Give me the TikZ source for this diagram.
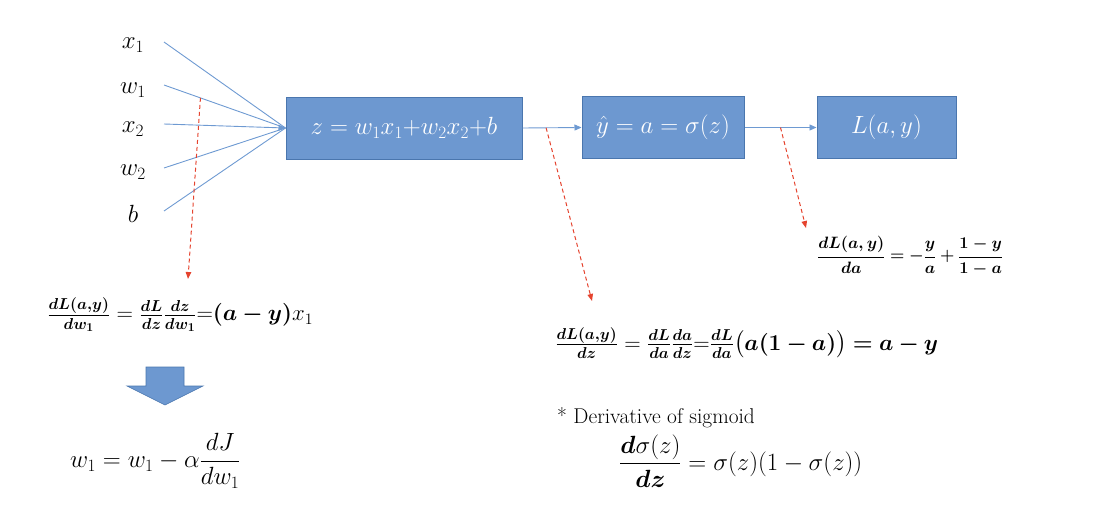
\documentclass[tikz,border=0pt]{standalone}
\usepackage{amsmath,bm,graphicx}
\usetikzlibrary{arrows.meta,calc}
\definecolor{boxblue}{HTML}{6D98D0}
\definecolor{boxedge}{HTML}{4A76AE}
\definecolor{lineblue}{HTML}{6E9AD2}
\definecolor{dashred}{HTML}{E5432E}
\begin{document}
\begin{tikzpicture}[x=1pt,y=-1pt,
  lbl/.style={font=\fontsize{24}{28}\selectfont, inner sep=0pt},
  blk/.style={draw=boxedge, fill=boxblue, line width=1pt, text=white,
    font=\fontsize{25}{29}\selectfont, minimum height=62pt, inner sep=0pt},
  conn/.style={draw=lineblue, line width=0.9pt},
  fwd/.style={conn, -{Triangle[length=7pt,width=6pt]}},
  bwd/.style={draw=dashred, line width=1pt, dash pattern=on 4pt off 3pt,
    -{Triangle[length=7pt,width=5.5pt]}},
  eq/.style={inner sep=0pt, anchor=west},
]
\useasboundingbox (0,0) rectangle (1114,522);

% input labels
\node[lbl] (x1) at (133,45) {$x_1$};
\node[lbl] (w1) at (133,90) {$w_1$};
\node[lbl] (x2) at (133,129) {$x_2$};
\node[lbl] (w2) at (133,172) {$w_2$};
\node[lbl] (b)  at (133,214) {$b$};

\coordinate (s1) at (164,42);
\coordinate (s2) at (164,85);
\coordinate (s3) at (164,124);
\coordinate (s4) at (164,168);
\coordinate (s5) at (164,211);

% blocks
\node[blk, minimum width=236pt] (b1) at (404,128) {$z = w_1x_1{+}w_2x_2{+}b$};
\node[blk, minimum width=162pt] (b2) at (663,127.5) {$\hat{y} = a = \sigma(z)$\hspace{10pt}};
\node[blk, minimum width=139pt] (b3) at (886.5,127.5) {$L(a,y)$};

% inputs to block 1
\draw[conn] (s1) -- (b1.west);
\draw[conn] (s2) -- (b1.west);
\draw[fwd] (s3) -- (b1.west);
\draw[conn] (s4) -- (b1.west);
\draw[conn] (s5) -- (b1.west);

\draw[fwd] (b1.east) -- (b2.west);
\draw[fwd] (b2.east) -- (b3.west);

% backward dashed arrows
\coordinate (r1s) at ($(s2)!0.3!(b1.west)$);
\coordinate (r1e) at (188,279);
\coordinate (r2s) at ($(b1.east)!0.4!(b2.west)$);
\coordinate (r2e) at (592,301);
\coordinate (r3s) at ($(b2.east)!0.5!(b3.west)$);
\coordinate (r3e) at (806,228);
\draw[bwd] (r1s) -- (r1e);
\draw[bwd] (r2s) -- (r2e);
\draw[bwd] (r3s) -- (r3e);

% formulas
\node[eq] (f1) at (47,315) {\fontsize{21}{25}\selectfont\resizebox{266pt}{!}{%
  $\boldsymbol{\frac{dL(a,y)}{dw_1}} = \boldsymbol{\frac{dL}{dz}\frac{dz}{dw_1}}{=}\boldsymbol{(a-y)}x_1$}};

\draw[fill=boxblue, draw=boxedge, line width=0.6pt]
  (146,367) -- (184,367) -- (184,386) -- (203,386) -- (165,405)
  -- (127,386) -- (146,386) -- cycle;

\node[eq] (f2) at (70,461) {\fontsize{25}{29}\selectfont
  $w_1 = w_1 - \alpha\dfrac{dJ}{dw_1}$};

\node[eq] (f3) at (555,343) {\fontsize{21}{25}\selectfont\resizebox{383pt}{!}{%
  $\boldsymbol{\frac{dL(a,y)}{dz}} = \boldsymbol{\frac{dL}{da}\frac{da}{dz}}{=}\boldsymbol{\frac{dL}{da}\bigl(a(1-a)\bigr) = a - y}$}};

\node[anchor=base west, inner sep=0pt, font=\fontsize{21.4}{25}\selectfont] (t1) at (557,423) {* Derivative of sigmoid};

\node[eq] (f4) at (619,461) {\fontsize{24}{28}\selectfont
  $\dfrac{\boldsymbol{d}\sigma(z)}{\boldsymbol{dz}} = \sigma(z)(1-\sigma(z))$};

\node[eq] (f5) at (817,256) {\fontsize{16}{20}\selectfont\resizebox{186pt}{!}{%
  $\boldsymbol{\dfrac{dL(a,y)}{da} = -\dfrac{y}{a} + \dfrac{1-y}{1-a}}$}};
\end{tikzpicture}
\end{document}
